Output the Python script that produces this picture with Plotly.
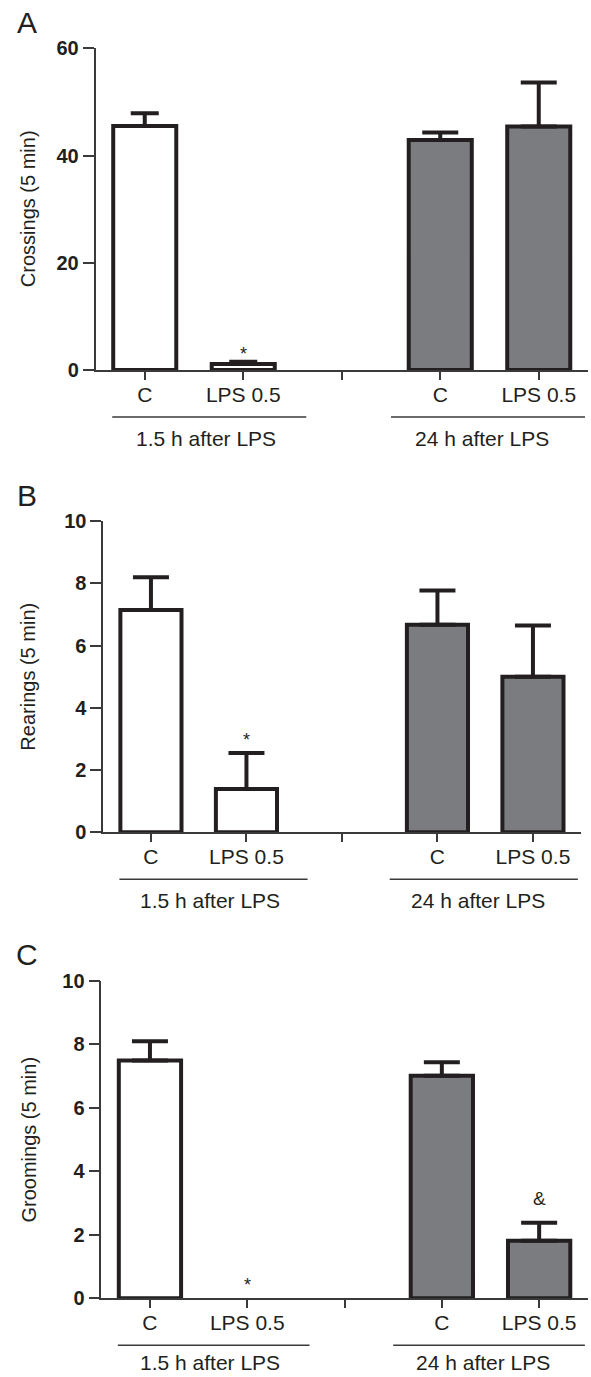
import plotly.graph_objects as go

# ---------------- data ----------------
categories = ["C", "LPS 0.5", "", "C", "LPS 0.5"]
groups = ["1.5 h after LPS", "24 h after LPS"]

crossings_15h = [45.5, 1.1]
crossings_15h_err = [2.4, 0.45]
crossings_24h = [42.9, 45.4]
crossings_24h_err = [1.4, 8.2]

rearings_15h = [7.14, 1.39]
rearings_15h_err = [1.05, 1.16]
rearings_24h = [6.67, 5.0]
rearings_24h_err = [1.1, 1.64]

groomings_15h = [7.49, 0.0]
groomings_15h_err = [0.6, None]
groomings_24h = [7.01, 1.81]
groomings_24h_err = [0.42, 0.57]

y_titles = ["Crossings (5 min)", "Rearings (5 min)", "Groomings (5 min)"]
panel_letters = ["A", "B", "C"]
y_ticks_A = [0, 20, 40, 60]
y_ticks_BC = [0, 2, 4, 6, 8, 10]

# significance marks: (group index, bar index, symbol)
sig_A = [(0, 1, "*")]
sig_B = [(0, 1, "*")]
sig_C = [(0, 1, "*"), (1, 1, "&")]

# ---------------- layout helpers ----------------
W, H = 591, 1377
FONT = "Liberation Sans, Arial, Helvetica, sans-serif"
INK = "#231f20"
GRAY = "#7b7c80"


def fx(p):
    return p / W


def fy(p):
    return 1 - p / H


panels = [
    dict(xd=(95.5, 588.0), yd=(48.3, 370.0), yr=[0, 60], ticks=y_ticks_A,
         v15=crossings_15h, e15=crossings_15h_err, v24=crossings_24h, e24=crossings_24h_err,
         cap15=14, cap24=18, sig=sig_A, sigshift=[8]),
    dict(xd=(103.2, 580.7), yd=(521.0, 832.3), yr=[0, 10], ticks=y_ticks_BC,
         v15=rearings_15h, e15=rearings_15h_err, v24=rearings_24h, e24=rearings_24h_err,
         cap15=18, cap24=18, sig=sig_B, sigshift=[13]),
    dict(xd=(101.3, 587.8), yd=(980.7, 1298.3), yr=[0, 10], ticks=y_ticks_BC,
         v15=groomings_15h, e15=groomings_15h_err, v24=groomings_24h, e24=groomings_24h_err,
         cap15=18, cap24=18, sig=sig_C, sigshift=[13, 24]),
]

fig = go.Figure()
layout = dict(
    width=W, height=H, autosize=False,
    margin=dict(l=0, r=0, t=0, b=0, pad=0, autoexpand=False),
    paper_bgcolor="white", plot_bgcolor="white", showlegend=False,
    font=dict(family=FONT, color=INK),
    barmode="overlay",
)
annotations = []
shapes = []

pos15 = [0, 1]
pos24 = [3, 4]

for i, p in enumerate(panels):
    sfx = "" if i == 0 else str(i + 1)
    xa, ya = "x" + sfx, "y" + sfx
    for pos, vals, errs, fill, cap in [
        (pos15, p["v15"], p["e15"], "white", p["cap15"]),
        (pos24, p["v24"], p["e24"], GRAY, p["cap24"]),
    ]:
        for xpos, v, e in zip(pos, vals, errs):
            fig.add_trace(go.Bar(
                x=[xpos], y=[v], width=0.64, xaxis=xa, yaxis=ya,
                marker=dict(color=fill, line=dict(color=INK, width=4 if v else 0)),
                error_y=dict(type="data", array=[e if e is not None else 0], arrayminus=[0],
                             symmetric=False, color=INK, thickness=4, width=cap,
                             visible=e is not None),
                hoverinfo="skip",
            ))
    layout["xaxis" + sfx] = dict(
        domain=[fx(p["xd"][0]), fx(p["xd"][1])], anchor=ya, automargin=False,
        range=[-0.5, 4.5], tickvals=list(range(len(categories))), ticktext=categories,
        showline=True, linecolor="#3a3a3a", linewidth=1.5,
        ticks="outside", ticklen=8, tickwidth=1.5, tickcolor="#3a3a3a",
        ticklabelstandoff=-3,
        tickfont=dict(size=21, family=FONT, color=INK),
        showgrid=False, zeroline=False, fixedrange=True,
    )
    layout["yaxis" + sfx] = dict(
        domain=[fy(p["yd"][1]), fy(p["yd"][0])], anchor=xa, automargin=False,
        range=p["yr"], tickvals=p["ticks"],
        showline=True, linecolor="#3a3a3a", linewidth=1.5,
        ticks="outside", ticklen=11, tickwidth=1.5, tickcolor="#3a3a3a",
        tickfont=dict(size=20, family=FONT, color=INK, weight="bold"),
        showgrid=False, zeroline=False, fixedrange=True,
    )
    y0px = p["yd"][1]
    # y title
    annotations.append(dict(
        text=y_titles[i], xref="paper", yref="paper", x=fx(28),
        y=fy((p["yd"][0] + p["yd"][1]) / 2), textangle=-90,
        showarrow=False, xanchor="center", yanchor="middle",
        font=dict(size=20, family=FONT, color=INK)))
    # panel letter
    annotations.append(dict(
        text=panel_letters[i], xref="paper", yref="paper", x=fx(27),
        y=fy(p["yd"][0] - 26), showarrow=False, xanchor="center", yanchor="middle",
        font=dict(size=30, family=FONT, color=INK)))
    # group lines + labels (label box bottom kept inside the canvas)
    label_bottom = min(y0px + 81.5, H - 1.0)
    for (a, b), c, g in [((-0.33, 1.64), 0.62, groups[0]), ((2.5, 4.47), 3.42, groups[1])]:
        shapes.append(dict(type="line", xref=xa, yref="paper", x0=a, x1=b,
                           y0=fy(y0px + 47), y1=fy(y0px + 47),
                           line=dict(color="#3a3a3a", width=1.5)))
        annotations.append(dict(text=g, xref=xa, yref="paper", x=c, y=fy(label_bottom),
                                showarrow=False, xanchor="center", yanchor="bottom",
                                font=dict(size=21, family=FONT, color=INK)))
    # significance marks
    for k, (gi, bi, sym) in enumerate(p["sig"]):
        vals = p["v15"] if gi == 0 else p["v24"]
        errs = p["e15"] if gi == 0 else p["e24"]
        top = vals[bi] + (errs[bi] or 0)
        xpos = (pos15 if gi == 0 else pos24)[bi]
        is_star = sym == "*"
        annotations.append(dict(
            text=sym, xref=xa, yref=ya, x=xpos, y=top, showarrow=False,
            xanchor="center", yanchor="middle",
            yshift=p["sigshift"][k],
            font=dict(size=(18 if is_star else 19), family=FONT, color=INK)))

layout["annotations"] = annotations
layout["shapes"] = shapes
fig.update_layout(**layout)

fig.write_html("out.html", config={"displayModeBar": False},
               post_script="document.body.style.margin='0';document.body.style.padding='0';")
